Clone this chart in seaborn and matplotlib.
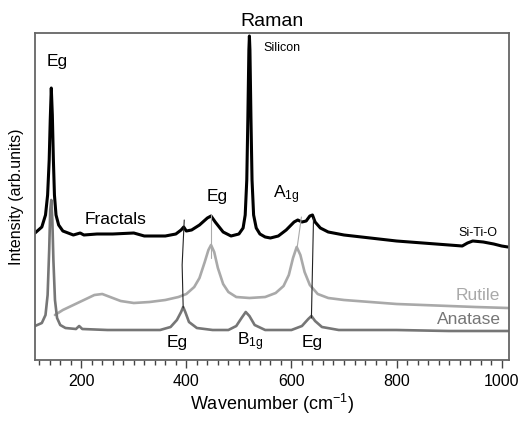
import numpy as np
import pandas as pd
import matplotlib
matplotlib.use("Agg")
import matplotlib.pyplot as plt
import seaborn as sns
from matplotlib.ticker import MultipleLocator

# ---- data (wavenumber, intensity in arb. units) ----
fractals_x = [112, 125, 132, 136, 139, 141, 143, 145, 147, 149, 152, 157, 165, 185, 198, 205,
              230, 260, 300, 320, 360, 380, 390, 395, 400, 410, 425, 440, 447, 455, 470, 485,
              500, 508, 512, 515, 517, 519, 520, 521, 523, 525, 528, 533, 540, 550, 560, 575,
              590, 605, 612, 620, 628, 635, 640, 645, 655, 670, 700, 750, 800, 850, 900, 925,
              935, 945, 965, 985, 1000, 1012]
fractals_y = [127, 133, 145, 165, 200, 240, 272, 245, 200, 165, 145, 135, 129, 125, 127, 125,
              126, 126, 127, 124, 124, 126, 130, 133, 129, 130, 135, 142, 144, 138, 128, 124,
              126, 132, 145, 180, 240, 310, 324, 310, 240, 180, 145, 132, 126, 123, 122, 124,
              130, 138, 140, 138, 139, 144, 145, 138, 132, 128, 125, 122, 119, 117, 115, 114,
              117, 119, 118, 116, 114, 113]

rutile_x = [150, 165, 185, 205, 225, 240, 255, 275, 300, 330, 360, 385, 400, 415, 425, 435,
            442, 447, 453, 460, 470, 480, 495, 520, 550, 570, 585, 595, 603, 610, 617, 625,
            635, 650, 670, 700, 750, 800, 850, 900, 950, 1012]
rutile_y = [45, 50, 55, 60, 65, 66, 63, 59, 57, 58, 60, 63, 66, 73, 82, 98,
            110, 115, 108, 92, 76, 68, 63, 62, 63, 67, 74, 85, 102, 113, 105, 88,
            75, 66, 62, 60, 58, 56, 55, 54, 53, 52]

anatase_x = [112, 125, 132, 136, 139, 141, 143, 145, 147, 150, 154, 160, 170, 190, 196, 202,
             250, 300, 350, 370, 382, 390, 394, 398, 405, 420, 450, 480, 495, 505, 513, 520,
             530, 550, 600, 620, 632, 638, 645, 658, 690, 800, 900, 1012]
anatase_y = [34, 37, 45, 65, 110, 150, 160, 140, 100, 60, 42, 35, 32, 31, 34, 31,
             30, 30, 30, 33, 40, 48, 53, 48, 38, 32, 30, 30, 34, 42, 48, 44,
             35, 30, 30, 34, 41, 44, 39, 33, 30, 30, 29, 29]

# connector lines between peaks
link_395_x = [394, 392, 396]
link_395_y = [52, 95, 140]
link_447_x = [447, 447]
link_447_y = [102, 145]
link_612_x = [611, 619]
link_612_y = [113, 143]
link_638_x = [638, 642]
link_638_y = [42, 142]

xticks_major = [200, 400, 600, 800, 1000]

# ---- build long table ----
frames = []
for name, xs, ys in [("Fractals", fractals_x, fractals_y),
                     ("Rutile", rutile_x, rutile_y),
                     ("Anatase", anatase_x, anatase_y)]:
    frames.append(pd.DataFrame({"x": xs, "y": ys, "series": name}))
df = pd.concat(frames, ignore_index=True)

sns.set_style("white")
plt.rcParams["font.family"] = ["Liberation Sans", "DejaVu Sans"]
plt.rcParams["mathtext.default"] = "regular"
plt.rcParams["text.color"] = "black"
plt.rcParams["axes.labelcolor"] = "black"
plt.rcParams["xtick.color"] = "black"

fig = plt.figure(figsize=(5.30, 4.21), dpi=100)
ax = fig.add_axes([35/530, 1-360/421, (509-35)/530, (360-33)/421])

colors = {"Fractals": "#000000", "Rutile": "#a9a9a9", "Anatase": "#767676"}
widths = {"Fractals": 2.2, "Rutile": 1.9, "Anatase": 1.9}
for name in ["Rutile", "Anatase", "Fractals"]:
    sub = df[df["series"] == name]
    sns.lineplot(data=sub, x="x", y="y", sort=False, estimator=None, ax=ax,
                 color=colors[name], linewidth=widths[name], legend=False)

for lx, ly, c in [(link_395_x, link_395_y, "#222222"), (link_447_x, link_447_y, "#a9a9a9"),
                  (link_612_x, link_612_y, "#a9a9a9"), (link_638_x, link_638_y, "#222222")]:
    ax.plot(lx, ly, color=c, linewidth=0.8)

ax.set_xlim(112, 1014)
ax.set_ylim(0, 327)

ax.set_xticks(xticks_major)
ax.xaxis.set_minor_locator(MultipleLocator(20))
ax.tick_params(axis="x", which="major", direction="out", length=6, width=1.0,
               color="#444444", labelcolor="black", labelsize=11.5, pad=4, bottom=True)
ax.tick_params(axis="x", which="minor", direction="out", length=3.5, width=1.0,
               color="#444444", bottom=True)
ax.set_yticks([])

for sp in ax.spines.values():
    sp.set_color("#666666")
    sp.set_linewidth(1.3)

ax.set_xlabel("Wavenumber (cm$^{-1}$)", fontsize=13, labelpad=2, color="black")
ax.set_ylabel("Intensity (arb.units)", fontsize=11.5, labelpad=8, color="black")
ax.set_title("Raman", fontsize=14, pad=5, color="black")

ax.text(154, 298, "Eg", fontsize=12.5, ha="center", va="center")
ax.text(546, 312, "Silicon", fontsize=9, ha="left", va="center")
ax.text(266, 140, "Fractals", fontsize=12.5, ha="center", va="center")
ax.text(458, 163, "Eg", fontsize=12.5, ha="center", va="center")
ax.text(565, 165, "A$_{1g}$", fontsize=12.5, ha="left", va="center")
ax.text(955, 127, "Si-Ti-O", fontsize=9, ha="center", va="center")
ax.text(996, 65, "Rutile", fontsize=12.5, ha="right", va="center", color="#a9a9a9")
ax.text(998, 40, "Anatase", fontsize=12.5, ha="right", va="center", color="#767676")
ax.text(382, 17, "Eg", fontsize=12.5, ha="center", va="center")
ax.text(521, 18, "B$_{1g}$", fontsize=12.5, ha="center", va="center")
ax.text(639, 17, "Eg", fontsize=12.5, ha="center", va="center")

fig.savefig("out.png", dpi=100)
